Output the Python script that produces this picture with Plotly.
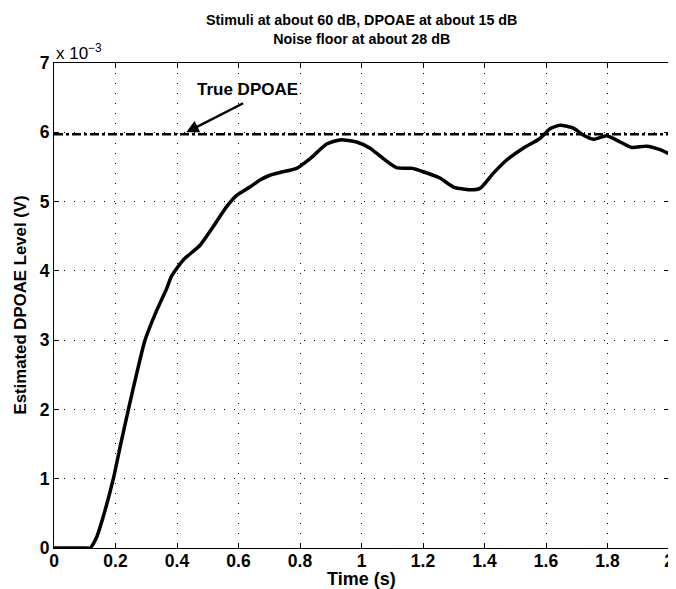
import plotly.graph_objects as go

# Data (time in s, level in units of 1e-3 V)
t = [0.0, 0.05, 0.10, 0.117, 0.139, 0.160, 0.193, 0.215, 0.242, 0.269, 0.296, 0.334,
     0.366, 0.383, 0.421, 0.475, 0.518, 0.562, 0.594, 0.637, 0.670, 0.702, 0.735,
     0.789, 0.833, 0.887, 0.930, 0.984, 1.028, 1.071, 1.114, 1.163, 1.201, 1.255,
     1.299, 1.353, 1.385, 1.429, 1.472, 1.526, 1.580, 1.613, 1.646, 1.689, 1.721,
     1.754, 1.797, 1.841, 1.879, 1.927, 1.971, 2.0]
level = [0.0, 0.0, 0.0, 0.0, 0.16, 0.45, 1.0, 1.46, 2.0, 2.52, 3.0, 3.43,
         3.74, 3.93, 4.16, 4.37, 4.64, 4.93, 5.09, 5.21, 5.31, 5.38, 5.42,
         5.48, 5.62, 5.83, 5.89, 5.86, 5.77, 5.62, 5.49, 5.48, 5.43, 5.34,
         5.21, 5.17, 5.19, 5.41, 5.60, 5.77, 5.91, 6.05, 6.10, 6.06, 5.96,
         5.90, 5.95, 5.86, 5.78, 5.80, 5.75, 5.69]
true_level = 5.97
scale = 1e-3

x_ticks = [0, 0.2, 0.4, 0.6, 0.8, 1.0, 1.2, 1.4, 1.6, 1.8, 2.0]
x_labels = ["0", "0.2", "0.4", "0.6", "0.8", "1", "1.2", "1.4", "1.6", "1.8", "2"]
y_ticks = [0, 1, 2, 3, 4, 5, 6, 7]
y_labels = ["0", "1", "2", "3", "4", "5", "6", "7"]

FONT = "Liberation Sans, Arial, Helvetica, sans-serif"

fig = go.Figure()
fig.add_trace(go.Scatter(x=[0, 2], y=[true_level * scale] * 2, mode="lines",
                         line=dict(color="black", width=2.5, dash="dashdot"),
                         hoverinfo="skip"))
fig.add_trace(go.Scatter(x=t, y=[v * scale for v in level], mode="lines",
                         line=dict(color="black", width=3.5, shape="spline", smoothing=0.6)))

axis_common = dict(showline=True, linecolor="black", linewidth=1, mirror="ticks",
                   ticks="inside", ticklen=5, tickcolor="black",
                   showgrid=True, gridcolor="black", gridwidth=1, griddash="1px,9px",
                   zeroline=False, automargin=False,
                   tickfont=dict(family=FONT, size=17.5, color="black"))

fig.update_xaxes(range=[-1e-6, 2 + 1e-6], tickvals=x_ticks,
                 ticktext=["<b>%s</b>" % s for s in x_labels], ticklabeloverflow="allow",
                 ticklabelstandoff=-3,
                 **axis_common)
fig.update_yaxes(range=[-1e-9, 7 * scale + 1e-9], tickvals=[v * scale for v in y_ticks],
                 ticktext=["<b>%s</b>" % s for s in y_labels], ticklabeloverflow="allow",
                 **axis_common)

# exponent label
fig.add_annotation(x=0.0, y=1.0, xref="paper", yref="paper", xanchor="left", yanchor="bottom",
                   text="x 10<sup>\u22123</sup>", showarrow=False, xshift=0, yshift=-2,
                   font=dict(family=FONT, size=17, color="black"))

# axis titles
fig.add_annotation(x=0.5, y=0, xref="paper", yref="paper", xanchor="center", yanchor="top",
                   text="<b>Time (s)</b>", showarrow=False, yshift=-19,
                   font=dict(family=FONT, size=18, color="black"))
fig.add_annotation(x=0, y=0.5, xref="paper", yref="paper", xanchor="center", yanchor="middle",
                   text="<b>Estimated DPOAE Level (V)</b>", showarrow=False, textangle=-90,
                   xshift=-34,
                   font=dict(family=FONT, size=16.8, color="black"))

# title
fig.add_annotation(x=0.5, y=1, xref="paper", yref="paper", xanchor="center", yanchor="bottom",
                   text="<b>Stimuli at about 60 dB, DPOAE at about 15 dB</b><br><b>Noise floor at about 28 dB</b>",
                   showarrow=False, yshift=14,
                   font=dict(family=FONT, size=14.3, color="black"))

fig.add_annotation(x=0.43, y=6.0 * scale, ax=0.62, ay=6.43 * scale, xref="x", yref="y",
                   axref="x", ayref="y", text="", showarrow=True,
                   arrowhead=2, arrowsize=1, arrowwidth=2.5, arrowcolor="black")
fig.add_annotation(x=0.63, y=6.62 * scale, xref="x", yref="y", text="<b>True DPOAE</b>",
                   showarrow=False, font=dict(family=FONT, size=17, color="black"))

# page body has an 8px margin, so the figure is offset by 8px in the window
fig.update_layout(
    width=668, height=581,
    margin=dict(l=46, r=7, t=55, b=41),
    paper_bgcolor="white", plot_bgcolor="white",
    showlegend=False,
)

fig.write_html("out.html")
